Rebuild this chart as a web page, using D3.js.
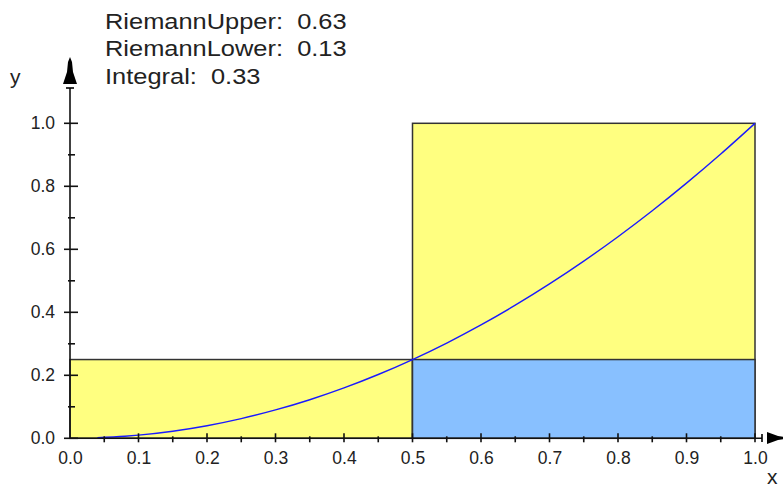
<!DOCTYPE html>
<html><head><meta charset="utf-8">
<script src="https://cdn.jsdelivr.net/npm/d3@7"></script>
<style>body{margin:0;background:#fff}svg{display:block}text{font-family:"Liberation Sans",Arial,sans-serif;fill:#222}</style>
</head><body><svg id="c" width="783" height="487"></svg>
<script>
const upperRects=[{x0:0,x1:0.5,h:0.25},{x0:0.5,x1:1,h:1}];
const lowerRects=[{x0:0,x1:0.5,h:0},{x0:0.5,x1:1,h:0.25}];
const curveX=[0.04,0.08,0.1,0.15,0.2,0.25,0.3,0.35,0.4,0.45,0.5,0.55,0.6,0.65,0.7,0.75,0.8,0.85,0.9,0.95,1.0];
const curveY=[0.0016,0.0064,0.01,0.0225,0.04,0.0625,0.09,0.1225,0.16,0.2025,0.25,0.3025,0.36,0.4225,0.49,0.5625,0.64,0.7225,0.81,0.9025,1.0];
const xTicks=[0,0.1,0.2,0.3,0.4,0.5,0.6,0.7,0.8,0.9,1.0];
const xMinor=[0.05,0.15,0.25,0.35,0.45,0.55,0.65,0.75,0.85,0.95];
const yTicks=[0,0.2,0.4,0.6,0.8,1.0];
const yMinor=[0.1,0.3,0.5,0.7,0.9];
const legend=[["RiemannUpper:","0.63"],["RiemannLower:","0.13"],["Integral:","0.33"]];

const svg=d3.select("#c");
const x=d3.scaleLinear().domain([0,1]).range([70,755]);
const y=d3.scaleLinear().domain([0,1]).range([438.3,123.3]);

svg.selectAll(".up").data(upperRects).join("rect")
 .attr("x",d=>x(d.x0)).attr("width",d=>x(d.x1)-x(d.x0))
 .attr("y",d=>y(d.h)).attr("height",d=>y(0)-y(d.h))
 .attr("fill","#ffff80").attr("stroke","#333").attr("stroke-width",1.5);
svg.selectAll(".lo").data(lowerRects.filter(d=>d.h>0)).join("rect")
 .attr("x",d=>x(d.x0)).attr("width",d=>x(d.x1)-x(d.x0))
 .attr("y",d=>y(d.h)).attr("height",d=>y(0)-y(d.h))
 .attr("fill","#88c0ff").attr("stroke","#333").attr("stroke-width",1.5);

const pts=curveX.map((v,i)=>[v,curveY[i]]);
svg.append("path").datum(pts)
 .attr("d",d3.line().x(d=>x(d[0])).y(d=>y(d[1])).curve(d3.curveMonotoneX))
 .attr("fill","none").attr("stroke","#1a1aff").attr("stroke-width",1.4);

const ax=svg.append("g").attr("stroke","#111").attr("stroke-width",1.6);
ax.append("line").attr("x1",x(0)).attr("x2",762).attr("y1",y(0)).attr("y2",y(0));
ax.append("line").attr("x1",x(0)).attr("x2",x(0)).attr("y1",y(0)).attr("y2",88);

const fontF='"Liberation Sans",Arial,sans-serif';
const xAxis=d3.axisBottom(x).tickValues(xTicks).tickFormat(d3.format(".1f")).tickSize(0).tickPadding(13);
const gx=svg.append("g").attr("transform",`translate(0,${y(0)})`).call(xAxis);
gx.select(".domain").remove();
gx.selectAll("text").style("font-size","17.5px").attr("fill","#222").style("font-family",fontF);
svg.append("g").selectAll("line").data(xTicks.slice(1)).join("line")
 .attr("x1",d=>x(d)).attr("x2",d=>x(d)).attr("y1",y(0)-5).attr("y2",y(0)+4)
 .attr("stroke","#111").attr("stroke-width",1.6);
svg.append("g").selectAll("line").data(xMinor).join("line")
 .attr("x1",d=>x(d)).attr("x2",d=>x(d)).attr("y1",y(0)-2).attr("y2",y(0)+4)
 .attr("stroke","#111").attr("stroke-width",1.6);

const yAxis=d3.axisLeft(y).tickValues(yTicks).tickFormat(d3.format(".1f")).tickSize(0).tickPadding(15);
const gy=svg.append("g").attr("transform",`translate(${x(0)},0)`).call(yAxis);
gy.select(".domain").remove();
gy.selectAll("text").style("font-size","17.5px").attr("fill","#222").style("font-family",fontF);
svg.append("g").selectAll("line").data(yTicks).join("line")
 .attr("x1",x(0)-6).attr("x2",x(0)+8).attr("y1",d=>y(d)).attr("y2",d=>y(d))
 .attr("stroke","#111").attr("stroke-width",1.6);
svg.append("g").selectAll("line").data(yMinor).join("line")
 .attr("x1",x(0)-2).attr("x2",x(0)+5).attr("y1",d=>y(d)).attr("y2",d=>y(d))
 .attr("stroke","#111").attr("stroke-width",1.6);

svg.append("path").attr("d","M70,57 L72,62 L73,72 L77,84 L63,84 L67,72 L68,62 Z").attr("fill","#000");
svg.append("line").attr("x1",66).attr("x2",74).attr("y1",88).attr("y2",88).attr("stroke","#000").attr("stroke-width",1.6);
svg.append("path").attr("d","M790,438 L778,440 L767,444 L767,432 L778,436 Z").attr("fill","#000");
svg.append("line").attr("x1",762).attr("x2",762).attr("y1",434).attr("y2",442).attr("stroke","#000").attr("stroke-width",1.6);

svg.append("text").attr("x",10).attr("y",84).text("y").style("font-size","21px");
svg.append("text").attr("x",767).attr("y",484).text("x").style("font-size","21px");

const lg=svg.append("g");
legend.forEach((d,i)=>{
 lg.append("text").attr("transform",`translate(105,${28.5+i*27.5}) scale(1.13,1)`)
  .style("font-size","22.5px")
  .text(d[0]+"\u00a0\u00a0"+d[1]);
});
</script></body></html>
